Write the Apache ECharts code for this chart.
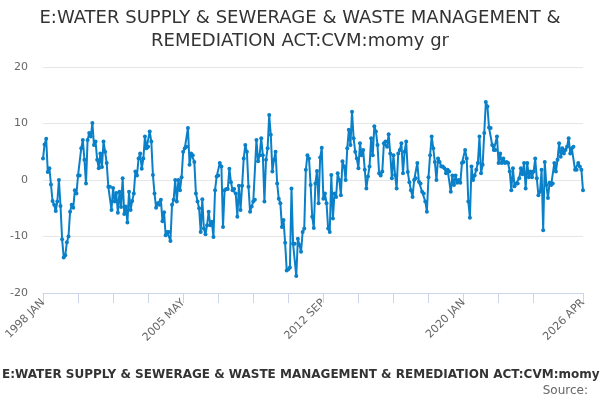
<!DOCTYPE html>
<html>
<head>
<meta charset="utf-8">
<script src="https://cdn.jsdelivr.net/npm/echarts@6/dist/echarts.min.js"></script>
<style>html,body{margin:0;padding:0;background:#fff;}#c{width:600px;height:400px;}</style>
</head>
<body>
<div id="c"></div>
<script>
const titleText = 'E:WATER SUPPLY & SEWERAGE & WASTE MANAGEMENT &\nREMEDIATION ACT:CVM:momy gr';
const seriesName = 'E:WATER SUPPLY & SEWERAGE & WASTE MANAGEMENT & REMEDIATION ACT:CVM:momy gr';
const monthNames = ['JAN','FEB','MAR','APR','MAY','JUN','JUL','AUG','SEP','OCT','NOV','DEC'];
const startYear = 1998;
const monthCount = 340;
const categories = [];
for (let i = 0; i < monthCount; i++) {
  categories.push((startYear + Math.floor(i / 12)) + ' ' + monthNames[i % 12]);
}
const yTicks = [-20, -10, 0, 10, 20];

const values1998 = [3.8, 6.3, 7.3, 1.4, 2.1, -0.8, -3.7, -4.4, -5.5, -3.8, 0, -4.6, -10.5, -13.7, -13.3, -11, -10, -5.6, -4.4, -4.9, -1.8, -2.4, 0.8, 0.8, 5.6, 7.1, 3.6, -0.6, 7.1, 8.3, 7.7, 10.1, 6.2, 6.8, 3.6, 2.1, 4.7, 2.3, 6.8, 5.0, 3.0, -1.2];
const values2001 = [-1.2, -5.3, -1.4, -3.8, -2.3, -5.8, -2.1, -4.8, 0.3, -6.0, -4.7, -7.5, -2.1, -5.3, -3.7, -2.4, 1.5, 0.8, 3.8, 4.7, 2.0, 3.8, 7.7, 5.6, 5.9, 8.6, 6.8, 0.9, -2.4, -4.9, -4.1, -4.4, -3.5, -7.3, -5.7, -9.8, -9.2, -9.2, -10.8, -4.4, -3.5, 0];
const values2005 = [-3.8, 0, -1.8, 0.5, 5.0, 5.6, 5.9, 9.2, 2.7, 4.7, 4.4, 3.2, -2.4, -3.8, -5.0, -9.2, -3.4, -8.6, -9.6, -8.0, -5.6, -8.0, -7.4, -10.1, -1.8, 0.6, 0.8, 3.0, 2.4, -8.3, -1.8, -1.6, -1.6, 2.0, -0.4, -1.8, -1.6, -2.4, -6.5, -1, -5.3, -1, 3.8, 6.2];
const values2008 = [5.0, -1.2, -5.6, -4.7, -3.8, -3.5, 7.1, 3.3, 4.4, 7.4, 4.4, -3.8, 3.6, 5.6, 11.5, 8.0, 1.5, 3.6, 5.0, -0.6, -3.3, -4.1, -8.3, -7.1, -11.1, -16.0, -15.8, -15.5, -1.5, -11.3, -11.3, -17.0, -10.4, -11.5, -12.7, -9.2, -8.6, 1.8, 4.4, 3.8, -0.9, -6.5];
const values2012 = [-8.5, -0.6, 1.6, -4.1, 4.0, 5.7, -3.3, -2.4, -4.1, -8.6, -9.2, 0.9, -6.8, -2.4, -3.0, 1.2, 0, -2.7, 3.3, 2.4, 0, 5.6, 8.9, 6.2, 12.1, 7.4, 5.0, 3.8, 2.1, 6.5, 4.4, 5.3, 1.8, -1.5, 0.6, 2.4, 7.4, 4.4, 9.5, 8.6, 6.2, 1.2];
const values2015 = [0.8, 1.5, 6.5, 6.8, 5.9, 8.1, 4.7, 0.3, 4.4, 0.9, -1.5, 4.7, 5.3, 6.5, 1.2, 5.0, 6.8, 1.4, -0.4, -1.8, -3.0, 0, 0.3, 3.0, -0.3, -0.6, -2.1, -2.4, -3.8, -5.6, 0.5, 4.4, 7.7, 5.6, 3.2, 0, 3.8, 3.2, 2.4, 2.4, 2.1, 1.2, 1.8];
const values2019 = [1.5, -2.1, 0.8, -0.9, 0.8, -0.5, 0, -0.5, 3.0, 3.2, 5.3, 3.8, -3.8, -6.7, 2.4, 0, 0.8, 1.8, 3.0, 7.7, 1.2, 2.7, 8.3, 13.8, 13.0, 9.3, 9.2, 6.2, 5.3, 5.3, 7.7, 3.0, 4.7, 3.0, 3.8, 3.0, 3.2, 3.0, 1.5, -1.8, 2.1, -1.1, -0.6];
const values2022 = [-0.6, 0.3, 2.1, 1.0, 3.0, -1.5, 3.0, 0.5, 1.5, 0.5, 1.5, 3.8, 0.3, -2.7, -2.1, 1.8, -8.9, 3.2, -0.9, -3.2, -0.5, -0.9, -0.6, 3.0, 1.5, 3.6, 6.5, 4.1, 5.6, 4.7, 5.3, 5.9, 7.4, 4.7, 5.6, 5.9, 1.8, 1.8, 3.0, 2.4, 1.8, -1.8];

const values = [].concat(values1998, values2001, values2005, values2008, values2012, values2015, values2019, values2022);

const labelEvery = 88;
const tickEvery = 22;
const lastIndex = categories.length - 1;

const chart = echarts.init(document.getElementById('c'), null, {renderer: 'canvas'});
chart.setOption({
  animation: false,
  textStyle: {fontFamily: 'DejaVu Sans'},
  title: [{
    text: titleText,
    left: 'center',
    top: 2,
    textStyle: {fontFamily: 'DejaVu Sans', fontSize: 18, fontWeight: 'normal', color: '#333333', lineHeight: 23}
  }, {
    text: 'Source:',
    right: 7,
    bottom: -2,
    textStyle: {fontFamily: 'DejaVu Sans', fontSize: 12, fontWeight: 'normal', color: '#666666'}
  }],
  legend: {
    left: -25,
    bottom: 14,
    itemWidth: 16,
    itemHeight: 8,
    itemGap: 10,
    textStyle: {fontFamily: 'DejaVu Sans', fontSize: 12, fontWeight: 'bold', color: '#333333'},
    data: [seriesName]
  },
  grid: {left: 43, right: 17, top: 67, bottom: 107, containLabel: false},
  xAxis: {
    type: 'category',
    boundaryGap: false,
    data: categories,
    axisLine: {onZero: false, lineStyle: {color: '#ccd6eb', width: 1}},
    axisTick: {
      length: 10,
      lineStyle: {color: '#ccd6eb'},
      interval: function (i) { return (i % tickEvery === 0 && i <= 308) || i === lastIndex; }
    },
    axisLabel: {
      rotate: 45,
      fontSize: 11,
      color: '#666666',
      margin: 8,
      interval: function (i) { return i % labelEvery === 0 || i === lastIndex; }
    },
    splitLine: {show: false}
  },
  yAxis: {
    type: 'value',
    min: yTicks[0],
    max: yTicks[yTicks.length - 1],
    interval: 10,
    axisLine: {show: false},
    axisTick: {show: false},
    axisLabel: {fontSize: 11, color: '#666666', margin: 15},
    splitLine: {lineStyle: {color: '#e6e6e6', width: 1}}
  },
  series: [{
    name: seriesName,
    type: 'line',
    data: values,
    symbol: 'circle',
    symbolSize: 4,
    showSymbol: true,
    showAllSymbol: true,
    color: '#0a80c8',
    lineStyle: {width: 2, color: '#0a80c8'},
    itemStyle: {color: '#0a80c8'}
  }]
});
</script>
</body>
</html>
